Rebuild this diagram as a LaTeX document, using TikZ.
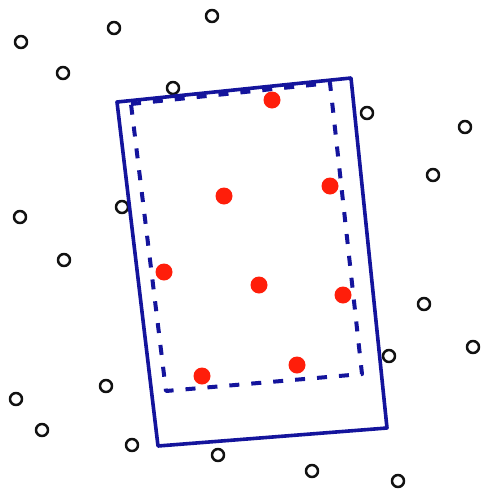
\documentclass[tikz,border=0pt]{standalone}
\usepackage{xcolor}
\usetikzlibrary{calc}
\definecolor{blau}{HTML}{14149C}
\definecolor{rot}{HTML}{FF1E0A}
\definecolor{schwarz}{HTML}{111111}

\begin{document}
\begin{tikzpicture}[x=1pt, y=-1pt, line cap=round, line join=round,
  leer/.style={circle, draw=schwarz, line width=2.5pt, minimum size=12pt, inner sep=0pt},
  voll/.style={circle, fill=rot, minimum size=17pt, inner sep=0pt}]
  % Rahmen
  \useasboundingbox[fill=white] (0,0) rectangle (483,493);

  % Eckpunkte des gedrehten Fensters
  \coordinate (A) at (117,102);
  \coordinate (B) at (351,78);
  \coordinate (C) at (387,428);
  \coordinate (D) at (158,446);
  \coordinate (a) at (131,104);
  \coordinate (b) at (330,83);
  \coordinate (c) at (362,374);
  \coordinate (d) at (166,391);

  % Punkte ausserhalb (offen)
  \foreach \n/\x/\y in {1/21/42, 2/114/28, 3/63/73, 4/212/16, 5/173/88,
      6/367/113, 7/465/127, 8/433/175, 9/122/207, 10/20/217, 11/64/260,
      12/424/304, 13/473/347, 14/389/356, 15/106/386, 16/16/399,
      17/42/430, 18/132/445, 19/218/455, 20/312/471, 21/398/481}
    \node[leer] (o\n) at (\x,\y) {};

  % Fenster
  \draw[blau, line width=3.6pt] (A) -- (B) -- (C) -- (D) -- cycle;
  \draw[blau, line width=4pt, line cap=butt, dash pattern=on 10pt off 12pt] (a) -- (b) -- (c) -- (d) -- cycle;

  % Punkte innerhalb (gefuellt)
  \foreach \n/\x/\y in {1/272/100, 2/224/196, 3/330/186, 4/164/272,
      5/259/285, 6/343/295, 7/202/376, 8/297/365}
    \node[voll] (r\n) at (\x,\y) {};
\end{tikzpicture}
\end{document}
